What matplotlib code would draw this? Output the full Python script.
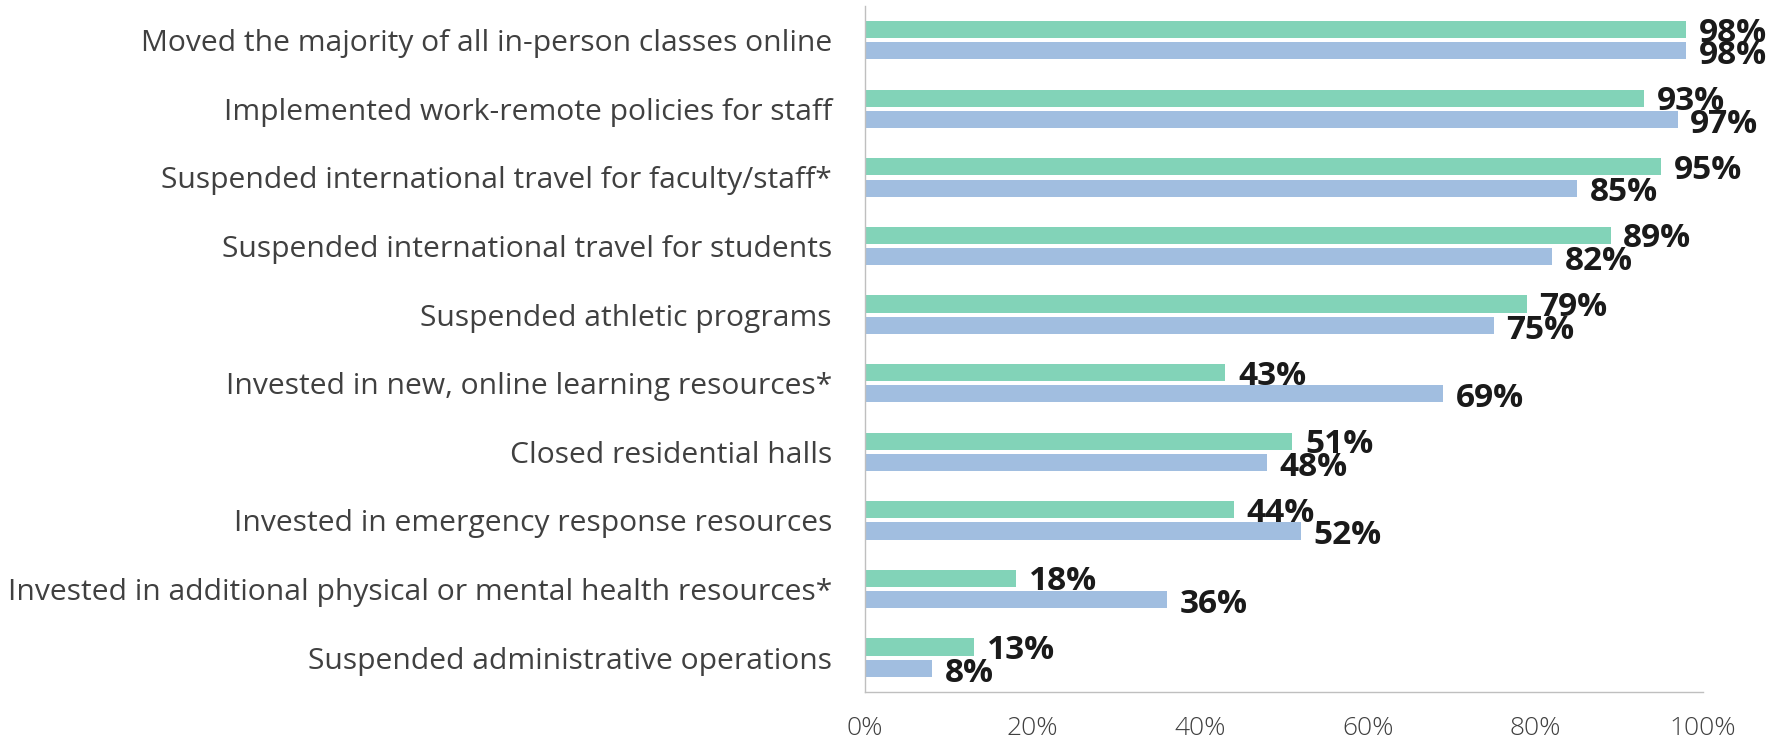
import matplotlib.pyplot as plt
import numpy as np

plt.rcParams['font.family'] = ['Open Sans', 'DejaVu Sans']

categories = [
    "Moved the majority of all in-person classes online",
    "Implemented work-remote policies for staff",
    "Suspended international travel for faculty/staff*",
    "Suspended international travel for students",
    "Suspended athletic programs",
    "Invested in new, online learning resources*",
    "Closed residential halls",
    "Invested in emergency response resources",
    "Invested in additional physical or mental health resources*",
    "Suspended administrative operations",
]
green_vals = [98, 93, 95, 89, 79, 43, 51, 44, 18, 13]
blue_vals = [98, 97, 85, 82, 75, 69, 48, 52, 36, 8]
ticks = [0, 20, 40, 60, 80, 100]

fig = plt.figure(figsize=(17.73, 7.44), dpi=100)
ax = fig.add_axes([0.488, 0.070, 0.4725, 0.922])

y = np.arange(len(categories))
h = 0.25
off = 0.155
ax.barh(y - off, green_vals, height=h, color='#82D3B8')
ax.barh(y + off, blue_vals, height=h, color='#A1BEE0')

# value labels just past the bar ends
for i in range(len(categories)):
    ax.annotate(f"{green_vals[i]}%", (green_vals[i], y[i] - off), xytext=(9, -2.5),
                textcoords='offset points', va='center', ha='left',
                fontsize=24, fontweight='bold', color='#1a1a1a')
    ax.annotate(f"{blue_vals[i]}%", (blue_vals[i], y[i] + off), xytext=(9, -3.5),
                textcoords='offset points', va='center', ha='left',
                fontsize=24, fontweight='bold', color='#1a1a1a')

ax.set_xlim(0, 100)
ax.set_ylim(len(categories) - 0.5, -0.5)
ax.set_yticks(y)
ax.set_yticklabels(categories, fontsize=21.6, color='#404040')
ax.set_xticks(ticks)
ax.set_xticklabels([f"{t}%" for t in ticks], fontsize=19, color='#404040',
                   fontweight='light')
ax.tick_params(axis='both', length=0)
ax.tick_params(axis='y', pad=24)
ax.tick_params(axis='x', pad=17)

for s in ['top', 'right']:
    ax.spines[s].set_visible(False)
for s in ['left', 'bottom']:
    ax.spines[s].set_color('#BFBFBF')
    ax.spines[s].set_linewidth(1.0)

fig.savefig('out.png', dpi=100)
